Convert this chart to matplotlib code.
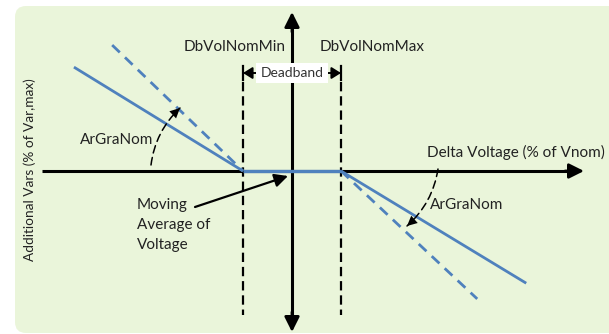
import matplotlib
matplotlib.use("Agg")
import matplotlib.pyplot as plt
from matplotlib.patches import FancyBboxPatch, FancyArrowPatch

# ---- data (conceptual units: deadband edges at +/-1) ----
deadband_edges = [-1.0, 1.0]
left_solid_x = [-4.45, -1.0]
left_solid_y = [2.12, 0.0]
left_dashed_x = [-3.67, -1.0]
left_dashed_y = [2.57, 0.0]
dead_x = [-1.0, 1.0]
dead_y = [0.0, 0.0]
right_solid_x = [1.0, 4.78]
right_solid_y = [0.0, -2.29]
right_dashed_x = [1.0, 3.78]
right_dashed_y = [0.0, -2.61]

label_min = "DbVolNomMin"
label_max = "DbVolNomMax"
label_deadband = "Deadband"
label_grad = "ArGraNom"
label_xaxis = "Delta Voltage (% of Vnom)"
label_yaxis = "Additional Vars (% of Var,max)"
label_moving = ["Moving", "Average of", "Voltage"]

# ---- layout helpers (pixel -> units) ----
S = 49.0
OX, OY = 292.0, 171.0
def ux(px):
    return (px - OX) / S
def uy(py):
    return (OY - py) / S

plt.rcParams['font.family'] = ['Lato', 'DejaVu Sans']
BLUE = '#4F81BD'
BG = '#EAF5DA'
TXT = '#222222'

fig = plt.figure(figsize=(6.09, 3.34), dpi=100)
fig.patch.set_facecolor('white')
ax = fig.add_axes([0, 0, 1, 1])
ax.set_xlim(ux(0), ux(609))
ax.set_ylim(uy(334), uy(0))
ax.axis('off')

# background rounded panel
bg = FancyBboxPatch((ux(15), uy(333)), ux(640) - ux(15), uy(6) - uy(333),
                    boxstyle="round,pad=0,rounding_size=%f" % (11 / S),
                    facecolor=BG, edgecolor='none', zorder=0)
ax.add_patch(bg)

# main axes arrows
AX_HEAD = '-|>,head_length=0.6,head_width=0.3'
ax.plot([ux(42), ux(575)], [0, 0], color='black', lw=2.2, zorder=2, solid_capstyle='butt')
ax.add_patch(FancyArrowPatch((ux(565), 0), (ux(584), 0), arrowstyle=AX_HEAD,
                             mutation_scale=15, color='black', lw=2.0, shrinkA=0, shrinkB=0, zorder=2))
ax.add_patch(FancyArrowPatch((0, uy(32)), (0, uy(12)), arrowstyle=AX_HEAD,
                             mutation_scale=15, color='black', lw=2.0, shrinkA=0, shrinkB=0, zorder=2))
ax.add_patch(FancyArrowPatch((0, uy(312)), (0, uy(332)), arrowstyle=AX_HEAD,
                             mutation_scale=15, color='black', lw=2.0, shrinkA=0, shrinkB=0, zorder=2))
ax.plot([0, 0], [uy(22), uy(322)], color='black', lw=2.2, zorder=2, solid_capstyle='butt')

# deadband dashed verticals
for xe in deadband_edges:
    ax.plot([xe, xe], [uy(82), uy(315)], color='black', lw=1.6,
            linestyle=(0, (4.2, 2.2)), zorder=2)
    ax.plot([xe, xe], [uy(66), uy(80)], color='black', lw=1.6, zorder=2)

# deadband arrows and label
ax.add_patch(FancyArrowPatch((ux(261), uy(73)), (deadband_edges[0], uy(73)),
                             arrowstyle='-|>,head_length=0.4,head_width=0.25', mutation_scale=14,
                             color='black', lw=1.4, shrinkA=0, shrinkB=0, zorder=3))
ax.add_patch(FancyArrowPatch((ux(323), uy(73)), (deadband_edges[1], uy(73)),
                             arrowstyle='-|>,head_length=0.4,head_width=0.25', mutation_scale=14,
                             color='black', lw=1.4, shrinkA=0, shrinkB=0, zorder=3))
ax.text(0, uy(73), label_deadband, ha='center', va='center', fontsize=10, color='#333333',
        zorder=4, bbox=dict(boxstyle='square,pad=0.3', facecolor='white', edgecolor='none'))

ax.text(ux(235), uy(47), label_min, ha='center', va='center', fontsize=11, color=TXT, zorder=4)
ax.text(ux(372), uy(47), label_max, ha='center', va='center', fontsize=11, color=TXT, zorder=4)

# blue characteristic
ax.plot(left_solid_x, left_solid_y, color=BLUE, lw=2.0, zorder=3, solid_capstyle='butt')
ax.plot(left_dashed_x, left_dashed_y, color=BLUE, lw=2.0, linestyle=(0, (3.8, 2.6)), zorder=3)
ax.plot(dead_x, dead_y, color=BLUE, lw=2.4, zorder=3, solid_capstyle='butt')
ax.plot(right_solid_x, right_solid_y, color=BLUE, lw=2.0, zorder=3, solid_capstyle='butt')
ax.plot(right_dashed_x, right_dashed_y, color=BLUE, lw=2.0, linestyle=(0, (3.8, 2.6)), zorder=3)

# gradient angle arcs
def dashed_arc(p0, p1, rad):
    ax.add_patch(FancyArrowPatch(p0, p1, connectionstyle='arc3,rad=%f' % rad, arrowstyle='-',
                                 color='black', lw=1.1, linestyle=(0, (5, 3)), shrinkA=0, shrinkB=0,
                                 zorder=4))
    ax.add_patch(FancyArrowPatch(p0, p1, connectionstyle='arc3,rad=%f' % rad,
                                 arrowstyle='-|>,head_length=0.45,head_width=0.22', mutation_scale=16,
                                 facecolor='black', edgecolor='none', lw=0, shrinkA=0, shrinkB=0,
                                 zorder=4))

dashed_arc((ux(151), uy(165)), (ux(180), uy(108)), -0.18)
dashed_arc((ux(438), uy(169)), (ux(407), uy(226)), -0.18)

ax.text(ux(117), uy(140), label_grad, ha='center', va='center', fontsize=11, color=TXT, zorder=4)
ax.text(ux(430), uy(205), label_grad, ha='left', va='center', fontsize=11, color=TXT, zorder=4)

# moving average annotation
for i, line in enumerate(label_moving):
    ax.text(ux(137), uy(205 + 20 * i), line, ha='left', va='center', fontsize=11, color=TXT, zorder=4)
ax.add_patch(FancyArrowPatch((ux(195), uy(207)), (ux(288), uy(176)),
                             arrowstyle='-|>,head_length=0.5,head_width=0.25', mutation_scale=16,
                             color='black', lw=1.6, shrinkA=0, shrinkB=0, zorder=4))

# axis labels
ax.text(ux(516), uy(152), label_xaxis, ha='center', va='center', fontsize=11, color=TXT, zorder=4)
ax.text(ux(30), uy(170), label_yaxis, ha='center', va='center', rotation=90, fontsize=9.8,
        color=TXT, zorder=4)

fig.savefig('out.png', dpi=100, facecolor='white')
